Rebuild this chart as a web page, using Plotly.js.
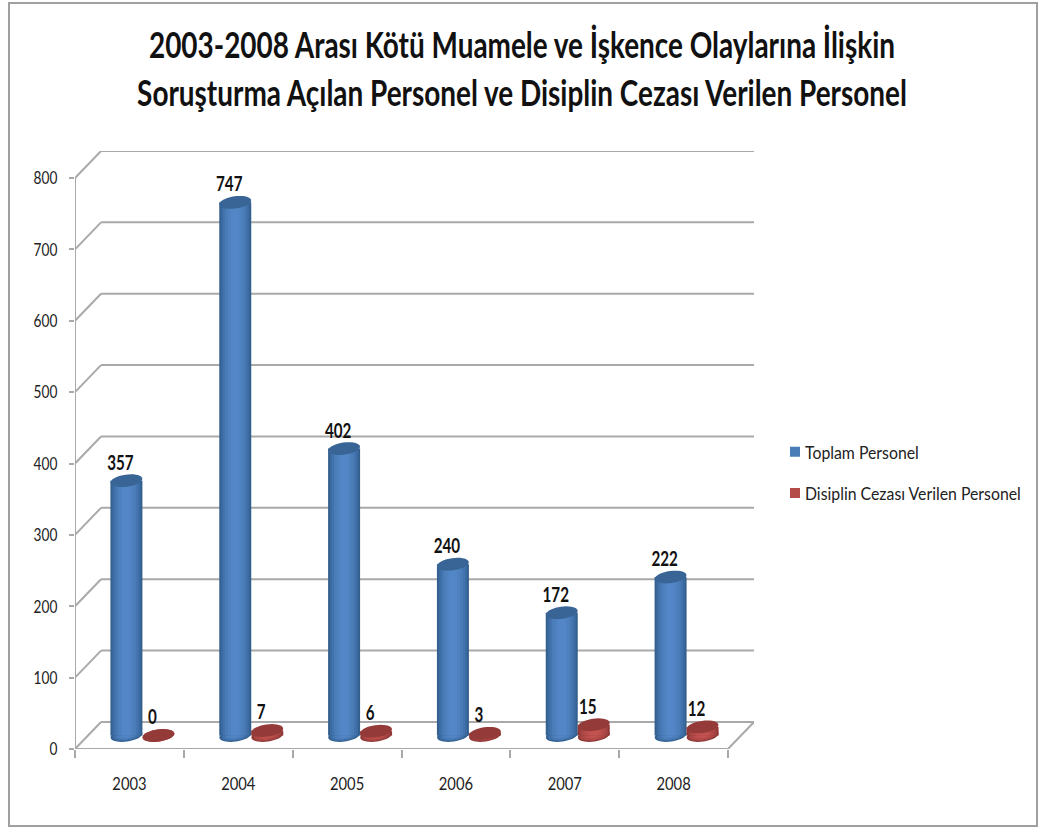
<!DOCTYPE html>
<html><head><meta charset="utf-8">
<script src="https://cdn.plot.ly/plotly-3.0.1.min.js"></script>
<style>html,body{margin:0;padding:0;background:#fff}</style></head>
<body><div id="chart" style="width:1039px;height:827px"></div>
<script>
const years = ['2003','2004','2005','2006','2007','2008'];
const toplam = [357,747,402,240,172,222];
const disiplin = [0,7,6,3,15,12];
const yTicks = [0,100,200,300,400,500,600,700,800];
const seriesNames = ['Toplam Personel','Disiplin Cezası Verilen Personel'];

const FONT = 'Lato,"Open Sans",sans-serif';
// chart-space depth of the 3D box, in axis units
const dx = 26/108.8, dy = 27/0.7125;
const barW = 0.294;
const idx = years.map((_,i)=>i);
const shadesBlue = ['#34608f','#3b6ba1','#4373ad','#4a7cb8','#4f81bf','#5386c6'];
const shadesRed  = ['#8f3836','#a04240','#ab4745','#b54b48','#bd4f4c','#c25350'];
const widths = [1,0.88,0.76,0.62,0.46,0.28];
const topBlue = '#386595', topRed = '#943a38';
const grid = '#a9a9a9';

function ellipsePath(cx, cy, rx, ry){
  const pxX=108.8, pxY=0.7125, t=-0.14; let d='';
  for(let a=0;a<=36;a++){
    const th=a/36*2*Math.PI;
    const ex=rx*pxX*Math.cos(th), ey=ry*pxY*Math.sin(th);
    const px=ex*Math.cos(t)-ey*Math.sin(t), py=ex*Math.sin(t)+ey*Math.cos(t);
    d+=(a?'L':'M')+(cx+px/pxX)+','+(cy-py/pxY);
  }
  return d+'Z';
}
const shapes=[];
function line(x0,y0,x1,y1,w){shapes.push({type:'line',xref:'x',yref:'y',x0,y0,x1,y1,layer:'below',line:{color:grid,width:w||2}});}
yTicks.forEach(v=>{
  line(-0.5,v,-0.5+dx,v+dy);
  line(-0.5+dx,v+dy,5.5+dx,v+dy);
});
line(-0.5,0,-0.5,800);
line(-0.5,0,5.5,0);
line(5.5,0,5.5+dx,dy);

const traces=[];
function series(vals,shift,shades,topCol,name){
  const xs=idx.map(i=>i+shift);
  widths.forEach((f,k)=>{
    vals.forEach((v,i)=>{
      shapes.push({type:'path',xref:'x',yref:'y',layer:'below',line:{width:0},fillcolor:shades[k],
        path:ellipsePath(xs[i],dy/2,barW/2*f,8.5*f)});
    });
    traces.push({type:'bar',x:xs,y:vals,base:idx.map(()=>dy/2),width:barW*f,
      marker:{color:shades[k],line:{width:0}},name:name,
      showlegend:k===3,legendgroup:name,hoverinfo:'skip'});
  });
  vals.forEach((v,i)=>{
    shapes.push({type:'path',xref:'x',yref:'y',layer:'above',line:{width:0},fillcolor:topCol,
      path:ellipsePath(xs[i],v+dy/2,barW/2,8.5)});
  });
  traces.push({type:'scatter',mode:'text',x:xs.map(x=>x-0.055),y:vals.map(v=>v+dy/2+22.5),
    text:vals.map(String),textposition:'middle center',showlegend:false,hoverinfo:'skip',
    textfont:{family:FONT,size:20,weight:700,color:'#111'}});
}
series(toplam,dx/2-barW/2,shadesBlue,topBlue,seriesNames[0]);
series(disiplin,dx/2+barW/2,shadesRed,topRed,seriesNames[1]);
shapes.push({type:'rect',xref:'paper',yref:'paper',layer:'below',
  x0:(9-75)/679,x1:(1037-75)/679,y0:(749-826)/598,y1:(749-3)/598,line:{color:'#a0a0a0',width:2}});

const layout={
  width:1039,height:827,paper_bgcolor:'#fff',plot_bgcolor:'rgba(0,0,0,0)',
  margin:{l:75,r:285,t:151,b:78,autoexpand:false},barmode:'overlay',
  title:{text:'2003-2008 Arası Kötü Muamele ve İşkence Olaylarına İlişkin<br>Soruşturma Açılan Personel ve Disiplin Cezası Verilen Personel',
    x:522/1039,xanchor:'center',y:1-58/827,yanchor:'top',font:{family:FONT,size:37,weight:700,color:'#111'}},
  xaxis:{range:[-0.5,5.5+dx],tickvals:idx,ticktext:years,ticks:'',showgrid:false,zeroline:false,showline:false,
    ticklabelstandoff:22,tickfont:{family:FONT,size:18,color:'#222'},
    minor:{tickvals:[-0.5,0.5,1.5,2.5,3.5,4.5,5.5],ticks:'outside',ticklen:8,tickcolor:grid,tickwidth:2,showgrid:false}},
  yaxis:{range:[0,800+dy],tickvals:yTicks,ticks:'outside',ticklen:5,tickcolor:grid,tickwidth:2,showgrid:false,zeroline:false,showline:false,
    ticklabelstandoff:8,tickfont:{family:FONT,size:18,color:'#222'}},
  showlegend:true,
  legend:{x:(775-75)/679,xanchor:'left',y:(749-472.5)/598,yanchor:'middle',tracegroupgap:15,itemwidth:30,
    font:{family:FONT,size:18,color:'#222'},bgcolor:'rgba(0,0,0,0)',traceorder:'grouped'},
  shapes:shapes
};
// The reference's type is horizontally condensed; no narrow font is installed, so narrow the real text.
function squeeze(sel,s){
  document.querySelectorAll(sel).forEach(el=>{
    const x=parseFloat(el.getAttribute('x'))||0, old=el.getAttribute('transform')||'';
    el.setAttribute('transform',old+' translate('+x+',0) scale('+s+',1) translate('+(-x)+',0)');
  });
}
Plotly.newPlot('chart',traces,layout,{displayModeBar:false,staticPlot:true}).then(()=>{
  squeeze('.gtitle',0.755);
  squeeze('.xtick text',0.82);
  squeeze('.ytick text',0.76);
  squeeze('.textpoint text',0.76);
  squeeze('.legendtext',0.88);
  document.querySelectorAll('.legendtext').forEach(el=>{
    el.setAttribute('transform','translate(-10,0) '+el.getAttribute('transform'));
  });
  document.querySelectorAll('.legendpoints path').forEach(el=>{
    el.setAttribute('d','M5,5H-5V-5H5Z');
  });
});
</script></body></html>
